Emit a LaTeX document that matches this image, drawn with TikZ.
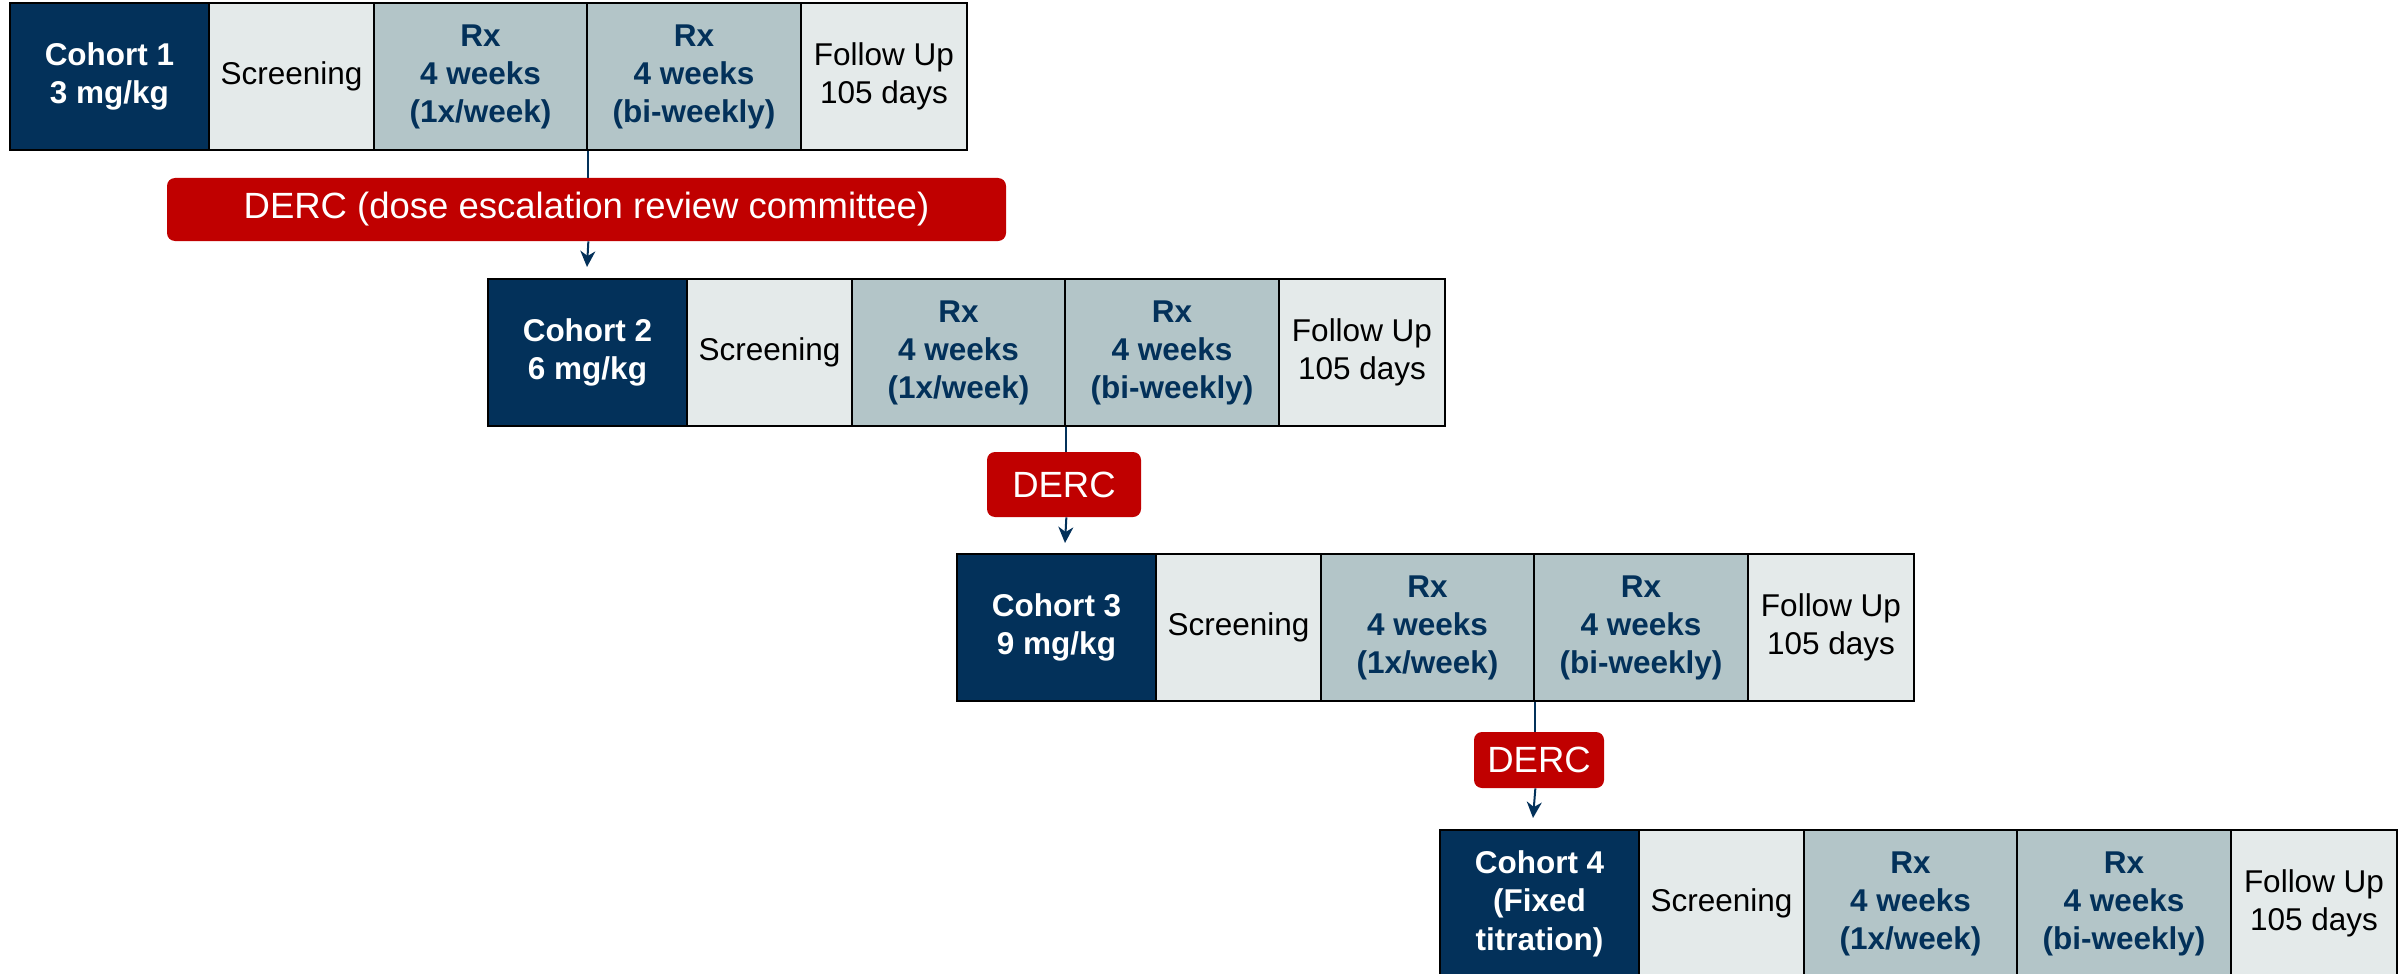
\documentclass[tikz,border=0pt]{standalone}
\usepackage{fontspec}
\setmainfont{Liberation Sans}
\usetikzlibrary{arrows.meta}
\definecolor{navy}{HTML}{03315A}
\definecolor{lightcell}{HTML}{E4EAEA}
\definecolor{rxcol}{HTML}{B3C5C8}
\definecolor{dercred}{HTML}{C00000}
\newcommand\trialrow[4]{%
  \node[cohortcell, minimum width=99.5pt] (#1c) at ({#2+99.5},{#3+73.5}) {#4};
  \node[plaincell, minimum width=82.5pt] (#1s) at ({#2+281.5},{#3+73.5}) {Screening};
  \node[rxcell, minimum width=106.5pt] (#1a) at ({#2+470.5},{#3+73.5}) {Rx\\4 weeks\\(1x/week)};
  \node[rxcell, minimum width=107pt] (#1b) at ({#2+684},{#3+73.5}) {Rx\\4 weeks\\(bi-weekly)};
  \node[plaincell, minimum width=83pt] (#1f) at ({#2+874},{#3+73.5}) {Follow Up\\105 days};
}
\begin{document}
\begin{tikzpicture}[x=0.5pt,y=-0.5pt,
  cell/.style={draw=black, line width=1.35pt, inner sep=0pt, minimum height=73.5pt, align=center},
  cohortcell/.style={cell, fill=navy, text=white, font=\fontsize{15.75}{19.25}\selectfont\bfseries},
  plaincell/.style={cell, fill=lightcell, text=black, font=\fontsize{15.75}{19.25}\selectfont},
  rxcell/.style={cell, fill=rxcol, text=navy, font=\fontsize{15.75}{19}\selectfont\bfseries},
  derc/.style={fill=dercred, rounded corners=4pt, text=white, inner sep=0pt, font=\fontsize{18.25}{20}\selectfont},
  conn/.style={draw=navy, line width=1pt},
  tip/.style={-{Stealth[length=8pt, width=7.5pt, inset=2.5pt]}}
]
\useasboundingbox (0,0) rectangle (2405,974);

\trialrow{ra}{10}{3}{Cohort 1\\3 mg/kg}
\trialrow{rb}{488}{279}{Cohort 2\\6 mg/kg}
\trialrow{rc}{957}{554}{Cohort 3\\9 mg/kg}
\trialrow{rd}{1440}{830}{Cohort 4\\(Fixed\\titration)}

\node[derc, minimum width=419.5pt, minimum height=31.5pt] (d1) at (586.5,209.5) {DERC (dose escalation review committee)};
\node[derc, minimum width=77pt, minimum height=32.5pt] (d2) at (1064,484.5) {DERC};
\node[derc, minimum width=65pt, minimum height=28pt] (d3) at (1539,760) {DERC};

\coordinate (t1) at (587,267);
\coordinate (t2) at (1065,543);
\coordinate (t3) at (1533,818);

\draw[conn] (raa.south east) -- (raa.south east |- d1.north);
\draw[conn, tip] (raa.south east |- d1.south) -- (t1);
\draw[conn] (rba.south east) -- (rba.south east |- d2.north);
\draw[conn, tip] (rba.south east |- d2.south) -- (t2);
\draw[conn] (rca.south east) -- (rca.south east |- d3.north);
\draw[conn, tip] (rca.south east |- d3.south) -- (t3);
\end{tikzpicture}
\end{document}
